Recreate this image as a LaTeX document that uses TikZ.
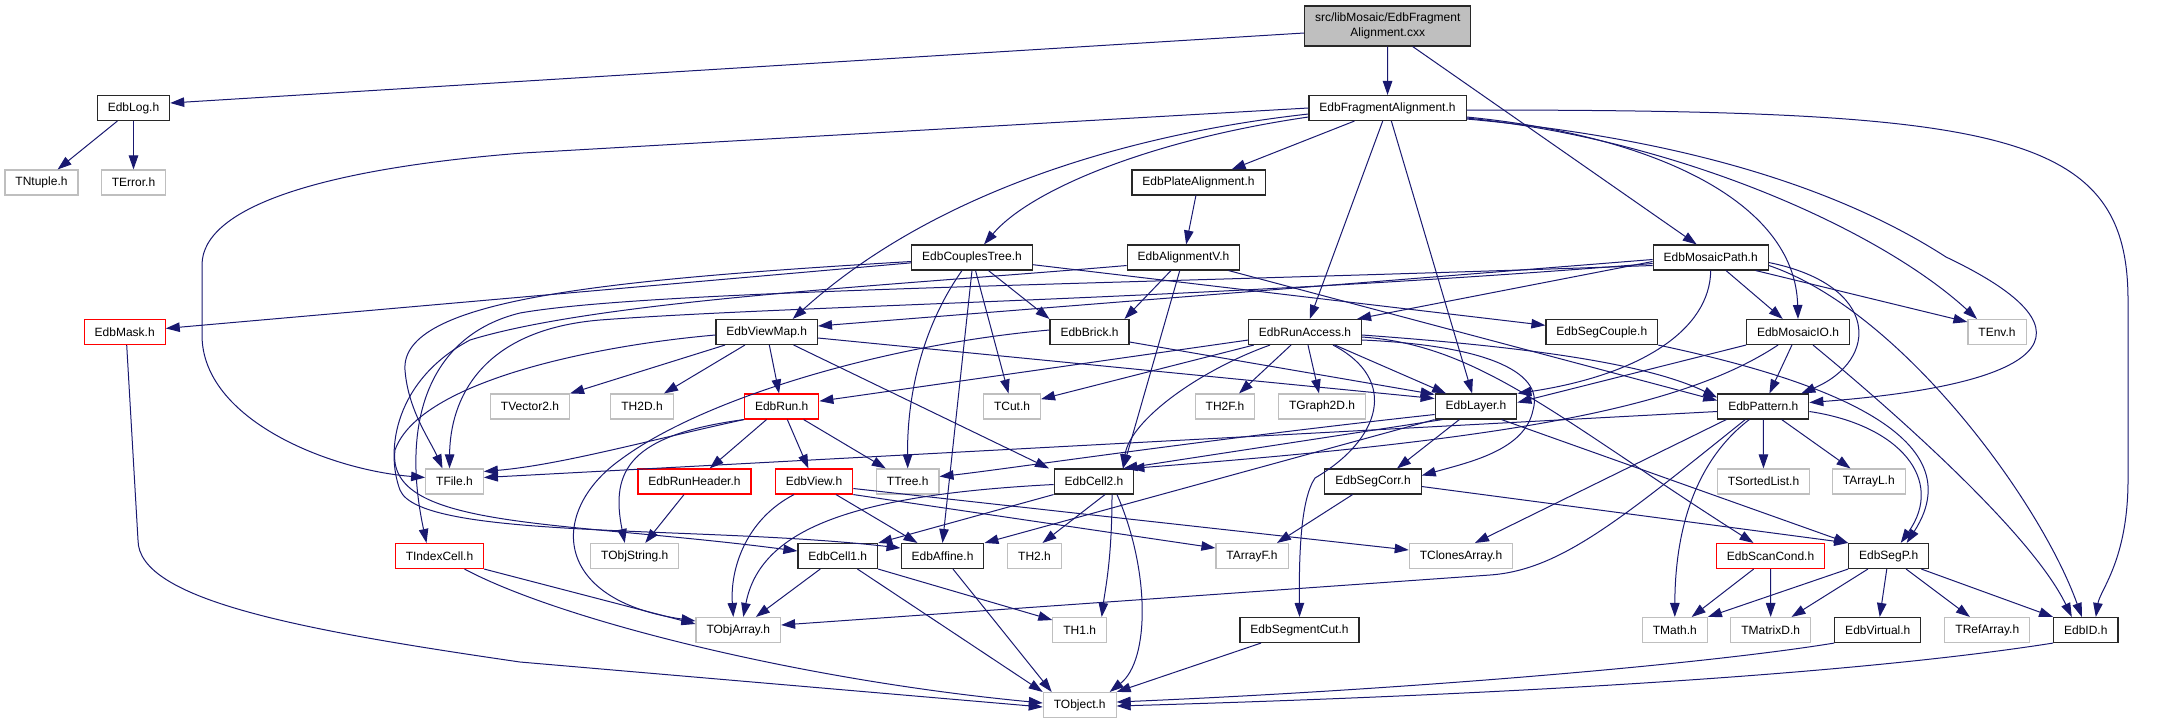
\documentclass[tikz,border=0pt]{standalone}
\usepackage{fontspec}
\setmainfont{Liberation Sans}
\usetikzlibrary{arrows.meta}

\definecolor{edgeblue}{RGB}{25,25,112}
\definecolor{extgray}{RGB}{191,191,191}
\definecolor{docgray}{RGB}{40,40,40}

\begin{document}
\begin{tikzpicture}[
		x=1pt, y=-1pt, >={Triangle[length=14pt,width=9.5pt]},
		font=\fontsize{12}{15}\selectfont,
		% Define styles
		base/.style={rectangle, line width=1.1pt, inner xsep=10.5pt, inner ysep=0pt, minimum height=25pt, fill=white},
		doc/.style={base, draw=docgray},
		ext/.style={base, draw=extgray},
		trunc/.style={base, draw=red},
		root/.style={base, draw=docgray, fill=extgray, align=center, minimum height=40pt},
		dep/.style={->, draw=edgeblue, line width=1pt}
		]
		
		\useasboundingbox (0,0) rectangle (2173,724);
		
		% 1. Source file and first level
		\node[root] (cxx) at (1387.7,26) {src/libMosaic/EdbFragment\\Alignment.cxx};
		\node[doc] (efa) at (1387.5,108) {EdbFragmentAlignment.h};
		\node[doc] (log) at (133.5,108) {EdbLog.h};
		\node[ext] (tntuple) at (41.5,182.5) {TNtuple.h};
		\node[ext] (terror) at (133.5,182.5) {TError.h};
		\node[doc] (platealign) at (1198.5,182.5) {EdbPlateAlignment.h};
		
		% 2. Alignment, mosaic and run headers
		\node[doc] (couples) at (972,257.5) {EdbCouplesTree.h};
		\node[doc] (alignv) at (1183.5,257.5) {EdbAlignmentV.h};
		\node[doc] (mpath) at (1710.7,257.5) {EdbMosaicPath.h};
		\node[trunc] (mask) at (124.7,332) {EdbMask.h};
		\node[doc] (viewmap) at (766.7,332) {EdbViewMap.h};
		\node[doc] (brick) at (1089.5,332) {EdbBrick.h};
		\node[doc] (runacc) at (1305,332) {EdbRunAccess.h};
		\node[doc] (segcouple) at (1601.8,332) {EdbSegCouple.h};
		\node[doc] (mosaicio) at (1798,332) {EdbMosaicIO.h};
		\node[ext] (tenv) at (1997,332) {TEnv.h};
		
		% 3. Middle rows
		\node[ext] (tvector2) at (530,406.5) {TVector2.h};
		\node[ext] (th2d) at (642,406.5) {TH2D.h};
		\node[trunc] (run) at (781.7,406.5) {EdbRun.h};
		\node[ext] (tcut) at (1012,406.5) {TCut.h};
		\node[ext] (th2f) at (1225,406.5) {TH2F.h};
		\node[ext] (tgraph2d) at (1322,406.5) {TGraph2D.h};
		\node[doc] (layer) at (1476,406.5) {EdbLayer.h};
		\node[doc] (pattern) at (1763.3,406.5) {EdbPattern.h};
		\node[ext] (tfile) at (454.5,481.5) {TFile.h};
		\node[trunc] (runheader) at (694.5,481.5) {EdbRunHeader.h};
		\node[trunc] (view) at (814,481.5) {EdbView.h};
		\node[ext] (ttree) at (907.7,481.5) {TTree.h};
		\node[doc] (cell2) at (1094,481.5) {EdbCell2.h};
		\node[doc] (segcorr) at (1373,481.5) {EdbSegCorr.h};
		\node[ext] (tsortedlist) at (1763.5,481.5) {TSortedList.h};
		\node[ext] (tarrayl) at (1868.8,481.5) {TArrayL.h};
		
		% 4. Lower rows
		\node[trunc] (tindexcell) at (439.5,556) {TIndexCell.h};
		\node[ext] (tobjstring) at (634.8,556) {TObjString.h};
		\node[doc] (cell1) at (837.8,556) {EdbCell1.h};
		\node[doc] (affine) at (942.5,556) {EdbAffine.h};
		\node[ext] (th2) at (1034.5,556) {TH2.h};
		\node[ext] (tarrayf) at (1252,556) {TArrayF.h};
		\node[ext] (tclonesarray) at (1461,556) {TClonesArray.h};
		\node[trunc] (scancond) at (1770.5,556) {EdbScanCond.h};
		\node[doc] (segp) at (1888.7,556) {EdbSegP.h};
		\node[ext] (tobjarray) at (738.3,630) {TObjArray.h};
		\node[ext] (th1) at (1079.7,630) {TH1.h};
		\node[doc] (segmentcut) at (1299.5,630) {EdbSegmentCut.h};
		\node[ext] (tmath) at (1674.8,630) {TMath.h};
		\node[ext] (tmatrixd) at (1770.7,630) {TMatrixD.h};
		\node[doc] (virtual) at (1877.8,630) {EdbVirtual.h};
		\node[ext] (trefarray) at (1987.3,630) {TRefArray.h};
		\node[doc] (edbid) at (2085.8,630) {EdbID.h};
		\node[ext] (tobject) at (1079.7,705) {TObject.h};
		
		% 5. Includes of the source file
		\draw[dep] ([yshift=-7pt]cxx.west) -- ([yshift=5pt]log.east);
		\draw[dep] (cxx) -- (efa);
		\draw[dep] ([xshift=25pt]cxx.south) -- ([xshift=-14pt]mpath.north);
		
		\draw[dep] (log) -- (tntuple);
		\draw[dep] (log) -- (terror);
		
		% EdbFragmentAlignment.h
		\draw[dep] (efa.west) -- (523,153) .. controls (330,168) and (202,205) .. (202,265) -- (202,335) .. controls (202,420) and (330,470) .. ([yshift=4pt]tfile.west);
		\draw[dep] (efa) -- (platealign);
		\draw[dep] ([yshift=-9pt]efa.west) .. controls (1150,140) and (1030,190) .. ([xshift=12pt]couples.north);
		\draw[dep] ([yshift=-6pt]efa.west) .. controls (1120,135) and (930,195) .. ([xshift=26pt]viewmap.north);
		\draw[dep] (efa) -- (runacc);
		\draw[dep] (efa) -- (layer);
		\draw[dep] ([yshift=-9pt]efa.east) .. controls (1650,135) and (1795,200) .. (mosaicio.north);
		\draw[dep] ([yshift=-10pt]efa.east) .. controls (1680,140) and (1880,230) .. ([xshift=-20pt]tenv.north);
		\draw[dep] ([yshift=-11pt]efa.east) .. controls (1700,140) and (1850,195) .. (1946,257) .. controls (2110,335) and (2040,385) .. ([yshift=4pt]pattern.east);
		\draw[dep] ([yshift=-2pt]efa.east) .. controls (2000,110) and (2128,130) .. (2128,300) -- (2128,480) .. controls (2128,560) and (2100,590) .. ([xshift=10pt]edbid.north);
		
		\draw[dep] (platealign) -- (alignv);
		
		% EdbCouplesTree.h
		\draw[dep] (couples) -- (mask);
		\draw[dep] ([yshift=-4pt]couples.west) .. controls (600,280) and (400,300) .. (405,370) .. controls (408,410) and (430,440) .. ([xshift=-12pt]tfile.north);
		\draw[dep] (couples) -- ([xshift=-40pt]brick.north);
		\draw[dep] (couples) -- (tcut);
		\draw[dep] ([xshift=-10pt]couples.south) .. controls (920,330) and (907,400) .. (ttree.north);
		\draw[dep] (couples.south) -- (affine.north);
		\draw[dep] (couples) -- (segcouple);
		
		% EdbAlignmentV.h
		\draw[dep] (alignv) -- ([xshift=35pt]brick.north);
		\draw[dep] (alignv) -- ([xshift=29pt]cell2.north);
		\draw[dep] ([xshift=45pt]alignv.south) -- ([yshift=6pt]pattern.west);
		\draw[dep] ([yshift=-8pt]alignv.west) .. controls (900,285) and (600,300) .. (470,340) .. controls (395,380) and (385,450) .. (400,490) .. controls (420,540) and (700,525) .. ([yshift=8pt]affine.west);
		
		% EdbMosaicPath.h
		\draw[dep] (mpath) -- (mosaicio);
		\draw[dep] (mpath.south) .. controls (1710,330) and (1640,375) .. (layer.north east);
		\draw[dep] ([yshift=-5pt]mpath.east) .. controls (1880,285) and (1880,360) .. ([xshift=38pt]pattern.north);
		\draw[dep] ([xshift=45pt]mpath.south) -- ([yshift=10pt]tenv.west);
		\draw[dep] ([yshift=-8pt]mpath.east) .. controls (1900,310) and (2040,500) .. ([xshift=-4pt]edbid.north);
		\draw[dep] ([yshift=-4pt]mpath.west) -- ([xshift=-5pt]runacc.north east);
		\draw[dep] ([yshift=-2pt]mpath.west) -- ([yshift=6pt]viewmap.east);
		\draw[dep] ([yshift=-6pt]mpath.west) .. controls (1200,300) and (800,305) .. (600,320) .. controls (480,330) and (450,400) .. ([xshift=-5pt]tfile.north);
		\draw[dep] ([yshift=-8pt]mpath.west) .. controls (1100,285) and (650,290) .. (520,313) .. controls (430,335) and (400,420) .. ([xshift=-13pt]tindexcell.north);
		
		% EdbViewMap.h
		\draw[dep] (viewmap) -- (tvector2.north east);
		\draw[dep] (viewmap) -- ([xshift=22pt]th2d.north);
		\draw[dep] (viewmap) -- (run);
		\draw[dep] (viewmap) -- ([xshift=-45pt]cell2.north);
		\draw[dep] ([yshift=-6pt]viewmap.east) -- ([yshift=8pt]layer.west);
		\draw[dep] ([yshift=-3pt]viewmap.west) .. controls (600,345) and (420,380) .. (395,450) .. controls (385,530) and (560,520) .. ([yshift=5pt]cell1.west);
		
		% EdbBrick.h
		\draw[dep] ([yshift=-10pt]brick.east) -- ([yshift=12pt]layer.west);
		\draw[dep] ([yshift=2pt]brick.west) .. controls (880,345) and (700,400) .. (620,460) .. controls (550,510) and (550,600) .. ([yshift=9pt]tobjarray.west);
		
		% EdbRunAccess.h
		\draw[dep] (runacc) -- (run);
		\draw[dep] (runacc) -- (tcut);
		\draw[dep] ([xshift=-35pt]runacc.south) .. controls (1200,370) and (1130,420) .. ([xshift=29pt]cell2.north);
		\draw[dep] (runacc) -- (th2f);
		\draw[dep] (runacc) -- (tgraph2d);
		\draw[dep] (runacc) -- (layer);
		\draw[dep] ([yshift=-3pt]runacc.east) .. controls (1500,345) and (1640,360) .. ([yshift=9pt]pattern.west);
		\draw[dep] ([yshift=-5pt]runacc.east) .. controls (1480,345) and (1560,420) .. ([xshift=-17pt]scancond.north);
		\draw[dep] ([yshift=-8pt]runacc.east) .. controls (1480,345) and (1545,370) .. (1533,410) .. controls (1525,450) and (1470,462) .. ([yshift=6pt]segcorr.east);
		\draw[dep] ([xshift=28pt]runacc.south) .. controls (1400,380) and (1380,440) .. (1315,478) .. controls (1300,500) and (1299,560) .. (segmentcut.north);
		
		\draw[dep] (segcouple.south east) .. controls (1800,375) and (1980,430) .. ([xshift=18pt]segp.north);
		
		% EdbMosaicIO.h
		\draw[dep] (mosaicio) -- (pattern);
		\draw[dep] (mosaicio.south west) -- ([yshift=4pt]layer.east);
		\draw[dep] ([xshift=15pt]mosaicio.south) .. controls (1880,400) and (2030,530) .. ([xshift=-14pt]edbid.north);
		\draw[dep] ([xshift=-20pt]mosaicio.south) .. controls (1680,410) and (1500,440) .. ([xshift=-4pt]cell2.north east);
		
		% EdbRun.h
		\draw[dep] (run.south west) .. controls (650,440) and (560,465) .. ([yshift=10pt]tfile.east);
		\draw[dep] (run.south west) .. controls (630,435) and (610,470) .. ([xshift=-10pt]tobjstring.north);
		\draw[dep] (run) -- (runheader);
		\draw[dep] (run) -- (view);
		\draw[dep] (run) -- (ttree);
		
		\draw[dep] (runheader) -- (tobjstring);
		
		% EdbView.h
		\draw[dep] ([xshift=-20pt]view.south) .. controls (745,520) and (730,570) .. ([xshift=-5pt]tobjarray.north);
		\draw[dep] (view) -- ([xshift=-25pt]affine.north);
		\draw[dep] (view.south east) -- ([yshift=8pt]tarrayf.west);
		\draw[dep] ([yshift=-7pt]view.east) -- ([yshift=6pt]tclonesarray.west);
		
		% EdbLayer.h
		\draw[dep] ([xshift=8pt]layer.south west) -- ([xshift=-11pt]cell2.north east);
		\draw[dep] (layer) -- ([xshift=24pt]segcorr.north);
		\draw[dep] (layer.south west) -- (affine.north east);
		\draw[dep] ([xshift=-16pt]layer.south east) -- (segp.north west);
		\draw[dep] ([yshift=-8pt]layer.west) .. controls (1200,440) and (1000,470) .. ([yshift=5pt]ttree.east);
		
		% EdbPattern.h
		\draw[dep] (pattern) -- (tsortedlist);
		\draw[dep] (pattern) -- (tarrayl);
		\draw[dep] ([xshift=-14pt]pattern.south) .. controls (1690,465) and (1675,540) .. (tmath.north);
		\draw[dep] ([xshift=-18pt]pattern.south) .. controls (1620,520) and (1560,570) .. (1490,575) -- ([yshift=5pt]tobjarray.east);
		\draw[dep] ([xshift=-37pt]pattern.south) -- ([xshift=14pt]tclonesarray.north);
		\draw[dep] ([yshift=-5pt]pattern.east) .. controls (1900,425) and (1945,480) .. ([xshift=12pt]segp.north);
		\draw[dep] ([yshift=-5pt]pattern.west) -- ([yshift=4pt]tfile.east);
		
		% EdbCell2.h
		\draw[dep] (cell2.south west) -- (cell1.north east);
		\draw[dep] ([xshift=11pt]cell2.south) -- ([xshift=8pt]th2.north);
		\draw[dep] ([xshift=18pt]cell2.south) .. controls (1112,560) and (1105,590) .. ([xshift=22pt]th1.north);
		\draw[dep] ([xshift=23pt]cell2.south) .. controls (1150,570) and (1150,660) .. ([xshift=30pt]tobject.north);
		\draw[dep] ([yshift=-3pt]cell2.west) .. controls (850,495) and (760,530) .. ([xshift=5pt]tobjarray.north);
		
		\draw[dep] (segcorr) -- ([xshift=25pt]tarrayf.north);
		\draw[dep] ([yshift=-5pt]segcorr.east) -- (segp.north west);
		
		% EdbCell1.h, EdbAffine.h
		\draw[dep] (cell1) -- (tobjarray);
		\draw[dep] (cell1) -- ([xshift=-37pt]tobject.north);
		\draw[dep] (cell1.south east) -- ([yshift=10pt]th1.west);
		\draw[dep] (affine) -- ([xshift=-28pt]tobject.north);
		
		% TIndexCell.h, EdbMask.h
		\draw[dep] (tindexcell.south east) -- ([yshift=6pt]tobjarray.west);
		\draw[dep] ([xshift=25pt]tindexcell.south) .. controls (560,620) and (800,680) .. ([yshift=2pt]tobject.west);
		\draw[dep] ([xshift=2pt]mask.south) -- (138,540) .. controls (138,600) and (300,630) .. (520,662) -- ([yshift=-2pt]tobject.west);
		
		% EdbScanCond.h, EdbSegP.h
		\draw[dep] (scancond) -- (tmath);
		\draw[dep] (scancond) -- (tmatrixd);
		\draw[dep] (segp.south west) -- (tmath.north east);
		\draw[dep] (segp) -- (tmatrixd);
		\draw[dep] (segp) -- (virtual);
		\draw[dep] (segp) -- (trefarray);
		\draw[dep] ([xshift=-8pt]segp.south east) -- (edbid.north west);
		
		% 6. Down to TObject.h
		\draw[dep] (segmentcut) -- (tobject.north east);
		\draw[dep] (virtual.south west) .. controls (1700,665) and (1400,690) .. ([yshift=3pt]tobject.east);
		\draw[dep] (edbid.south west) .. controls (1850,675) and (1500,695) .. ([yshift=-1pt]tobject.east);
		
	\end{tikzpicture}
\end{document}
